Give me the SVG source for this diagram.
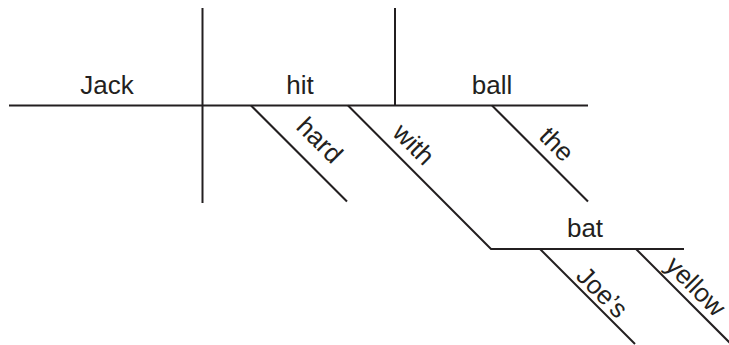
<svg xmlns="http://www.w3.org/2000/svg" width="729" height="345" viewBox="0 0 729 345">
<style>
.ln{stroke:#231f20;stroke-width:2;fill:none;stroke-linecap:butt}
.w{font-family:"Liberation Sans",Arial,Helvetica,sans-serif;font-size:26px;fill:#231f20;text-anchor:middle}
</style>
<rect width="729" height="345" fill="#ffffff"/>
<g id="connectors">
<line class="ln" x1="9" y1="105.5" x2="588" y2="105.5"/>
<line class="ln" x1="202.5" y1="8" x2="202.5" y2="203"/>
<line class="ln" x1="395" y1="8" x2="395" y2="105.5"/>
<line class="ln" x1="251" y1="105.5" x2="347" y2="201.5"/>
<polyline class="ln" points="348,105.5 491,249 684,249"/>
<line class="ln" x1="492" y1="105.5" x2="588" y2="201.5"/>
<line class="ln" x1="540" y1="249" x2="635" y2="344"/>
<line class="ln" x1="636" y1="249" x2="731" y2="344"/>
</g>
<g id="jack"><text class="w" x="107" y="93.5">Jack</text></g>
<g id="hit"><text class="w" x="300" y="93.5">hit</text></g>
<g id="ball"><text class="w" x="492" y="93.5">ball</text></g>
<g id="hard"><text class="w" transform="translate(313.5,146.5) rotate(45)">hard</text></g>
<g id="with"><text class="w" transform="translate(407.5,150.5) rotate(45)">with</text></g>
<g id="the"><text class="w" transform="translate(550.5,150.5) rotate(45)">the</text></g>
<g id="bat"><text class="w" x="585" y="237">bat</text></g>
<g id="joes"><text class="w" transform="translate(596,298.5) rotate(45)">Joe’s</text></g>
<g id="yellow"><text class="w" transform="translate(689.5,292.5) rotate(45)">yellow</text></g>
</svg>
